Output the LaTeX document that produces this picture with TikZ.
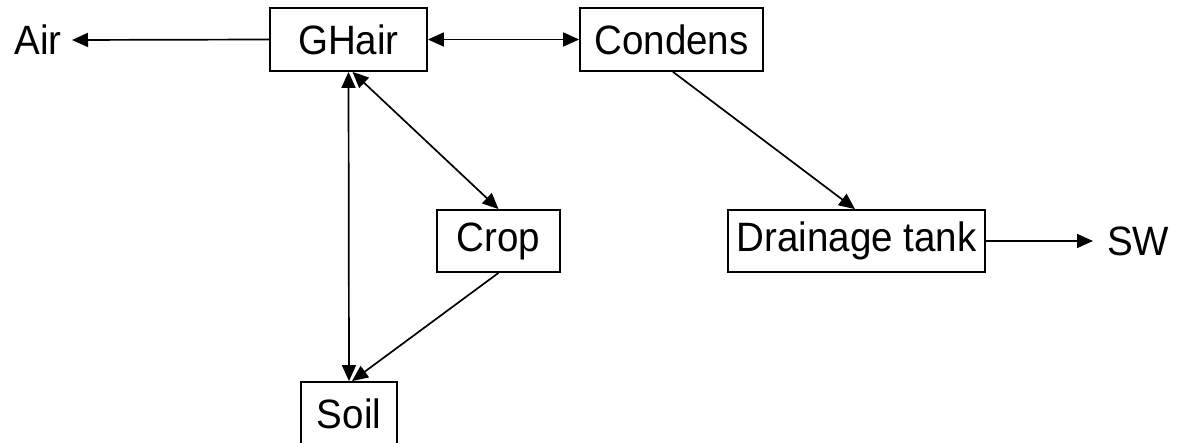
\documentclass[tikz,border=0pt]{standalone}
\usepackage{fontspec}
\setmainfont{Liberation Sans}[FakeStretch=0.94]
\usetikzlibrary{arrows.meta}
\begin{document}
\begin{tikzpicture}[x=1pt,y=-1pt,
  box/.style={draw,line width=1.8pt,inner sep=0pt,font=\fontsize{41}{48}\selectfont},
  lbl/.style={inner sep=0pt,font=\fontsize{41}{48}\selectfont},
  conn/.style={line width=1.7pt,-{Triangle[length=16pt,width=14pt]}},
  biconn/.style={line width=1.7pt,{Triangle[length=16pt,width=14pt]}-{Triangle[length=16pt,width=14pt]}}]
\useasboundingbox[fill=white] (0,0) rectangle (1195,443);
\node[box,minimum width=157pt,minimum height=63pt] (gh) at (348.5,39.5) {GHair};
\node[box,minimum width=183pt,minimum height=63pt] (co) at (671.5,39.5) {Condens};
\node[box,minimum width=123pt,minimum height=62pt] (cr) at (498.5,241) {Crop};
\node[box,minimum width=257pt,minimum height=62pt] (dt) at (856.5,241) {Drainage tank};
\node[box,minimum width=96pt,minimum height=63pt] (so) at (349,413.5) {Soil};
\node[lbl,anchor=east] (air) at (62,40) {Air};
\node[lbl,anchor=west] (sw) at (1107,241) {SW};
\coordinate (airend) at (72,40);
\coordinate (swend) at (1093,241);
\draw[conn] (gh.west) -- (airend);
\draw[biconn] (gh.east) -- (co.west);
\draw[biconn] (gh.south) -- (so.north);
\draw[biconn] ([xshift=4pt]gh.south) -- (cr.north);
\draw[conn] (cr.south) -- ([xshift=3pt]so.north);
\draw[conn] ([xshift=1.5pt]co.south) -- ([xshift=-1.5pt]dt.north);
\draw[conn] (dt.east) -- (swend);
\end{tikzpicture}
\end{document}
